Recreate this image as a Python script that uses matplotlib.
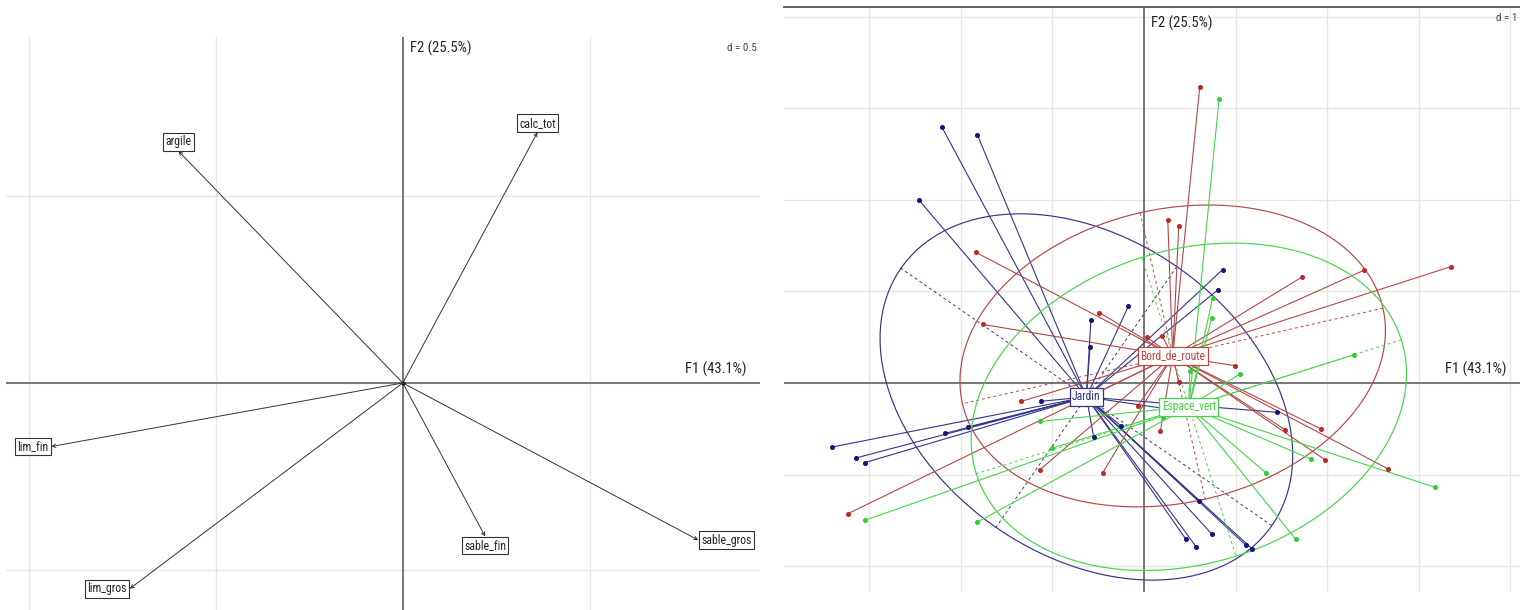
import numpy as np
import matplotlib
matplotlib.use("Agg")
import matplotlib.pyplot as plt

plt.rcParams['font.family'] = ['Liberation Sans Narrow', 'Arial Narrow', 'Roboto Condensed',
                               'PT Sans Narrow', 'Archivo Narrow', 'Liberation Sans', 'DejaVu Sans']

axis_labels = ["F1 (43.1%)", "F2 (25.5%)"]

# correlations of the soil variables with F1 / F2
variables = ["argile", "calc_tot", "lim_fin", "lim_gros", "sable_fin", "sable_gros"]
var_f1 = [-0.60, 0.36, -0.94, -0.73, 0.22, 0.79]
var_f2 = [0.62, 0.67, -0.17, -0.55, -0.41, -0.42]

# site scores, one pair of lists per site type
groups = ["Jardin", "Bord_de_route", "Espace_vert"]
jardin_f1 = [-2.21, -1.82, -2.46, -3.41, -3.15, -3.05, -2.17, -1.92, -0.17, -0.58, -0.59, -1.13,
             -0.55, -0.25, 0.60, 0.74, 0.46, 0.57, 1.11, 1.18, 1.45, 0.86, 0.81, 0.57]
jardin_f2 = [2.80, 2.71, 2.00, -0.70, -0.82, -0.87, -0.55, -0.48, 0.84, 0.69, 0.39, -0.20,
             -0.59, -0.47, -1.29, -1.65, -1.71, -1.79, -1.77, -1.81, -0.32, 1.24, 1.02, -0.33]
route_f1 = [0.61, 0.26, 0.38, -1.84, -1.76, 2.40, 3.35, 1.73, 1.54, 1.93, -1.34, -3.24,
            -0.49, 0.03, 0.20, 0.99, 0.38, -0.77, -0.07, 0.18, -1.14, -0.45, 1.98, 2.67]
route_f2 = [3.24, 1.78, 1.72, 1.43, 0.64, 1.23, 1.27, 1.16, -0.51, -0.50, -0.20, -1.43,
            0.77, 0.50, 0.51, 0.19, 0.01, -0.23, -0.25, -0.52, -0.95, -0.98, -0.84, -0.94]
vert_f1 = [0.82, 0.75, 0.74, 1.05, 0.50, -1.14, -1.00, 1.33, 2.30, -3.05, -1.82, 1.82,
           3.18, 1.66, 0.21]
vert_f2 = [3.10, 0.93, 0.71, 0.10, 0.13, -0.42, -0.71, -0.98, 0.31, -1.50, -1.52, -0.83,
           -1.14, -1.71, -0.37]

line_cols = ["#34348a", "#b44848", "#48d448"]
dot_cols = ["#14147a", "#c02828", "#34cc34"]
text_cols = ["#2e2e82", "#c04444", "#48d048"]
grid_col = "#e6e6e6"
axis_col = "#6e6e6e"


def draw_frame(ax, xlim, ylim, step):
    ax.set_xlim(*xlim)
    ax.set_ylim(*ylim)
    for v in np.arange(np.ceil(xlim[0] / step), np.floor(xlim[1] / step) + 1) * step:
        ax.axvline(v, color=grid_col, lw=1, zorder=0)
    for v in np.arange(np.ceil(ylim[0] / step), np.floor(ylim[1] / step) + 1) * step:
        ax.axhline(v, color=grid_col, lw=1, zorder=0)
    ax.axhline(0, color=axis_col, lw=1.3, zorder=1)
    ax.axvline(0, color=axis_col, lw=1.3, zorder=1)
    ax.set_xticks([])
    ax.set_yticks([])
    for s in ax.spines.values():
        s.set_visible(False)


def axis_titles(ax, d_text, f2_dy):
    ax.annotate(axis_labels[0], xy=(1, 0), xycoords=("axes fraction", "data"),
                xytext=(-10, 4), textcoords="offset points", ha="right", va="bottom",
                fontsize=10.5, color="#222222")
    ax.annotate(axis_labels[1], xy=(0, 1), xycoords=("data", "axes fraction"),
                xytext=(5, f2_dy), textcoords="offset points", ha="left", va="top",
                fontsize=10.5, color="#222222")
    ax.annotate(d_text, xy=(1, 1), xycoords="axes fraction", xytext=(-2, -4),
                textcoords="offset points", ha="right", va="top", fontsize=8,
                color="#444444")


fig = plt.figure(figsize=(15.2, 6.1), dpi=100)

# --- variables ---
ax1 = fig.add_axes([6 / 1520, 0, 754 / 1520, 573 / 610])
draw_frame(ax1, (-1.061, 0.955), (-0.607, 0.925), 0.5)
for name, x, y in zip(variables, var_f1, var_f2):
    ax1.annotate("", xy=(x, y), xytext=(0, 0),
                 arrowprops=dict(arrowstyle="->", lw=0.7, color="#333333",
                                 mutation_scale=6, shrinkA=0, shrinkB=0))
    # put the box outside the arrow tip, on the dominant side
    if x > abs(y):
        off, ha, va = (2, 0), "left", "center"
    elif -x >= abs(y):
        off, ha, va = (-2, 0), "right", "center"
    elif y < 0:
        off, ha, va = (0, -2), "center", "top"
    else:
        off, ha, va = (0, 2), "center", "bottom"
    ax1.annotate(name, xy=(x, y), xytext=off, textcoords="offset points",
                 ha=ha, va=va, fontsize=8.5, color="#222222",
                 bbox=dict(boxstyle="square,pad=0.2", fc="white", ec="#333333", lw=0.8))
ax1.plot(0, 0, "o", color="black", ms=2)
axis_titles(ax1, "d = 0.5", -3)

# --- sites by type ---
ax2 = fig.add_axes([784 / 1520, 18 / 610, 736 / 1520, 585 / 610])
draw_frame(ax2, (-3.934, 4.109), (-2.284, 4.109), 1)
ax2.spines["top"].set_visible(True)
ax2.spines["top"].set_color("#555555")
ax2.spines["top"].set_linewidth(1.3)

scores = [(jardin_f1, jardin_f2), (route_f1, route_f2), (vert_f1, vert_f2)]
centres = []
for (xs, ys), col, dcol in zip(scores, line_cols, dot_cols):
    x = np.array(xs)
    y = np.array(ys)
    mx, my = x.mean(), y.mean()
    centres.append((mx, my))
    for px, py in zip(x, y):
        ax2.plot([mx, px], [my, py], color=col, lw=0.8, zorder=2)
    ax2.plot(x, y, "o", color=dcol, ms=2.6, zorder=3)

    # ellipse at 1.5 standard deviations with its two axes dashed
    vx = ((x - mx) ** 2).mean()
    vy = ((y - my) ** 2).mean()
    cxy = ((x - mx) * (y - my)).mean()
    vals, vecs = np.linalg.eigh(np.array([[vx, cxy], [cxy, vy]]))
    a = 1.5 * np.sqrt(vals[1])
    b = 1.5 * np.sqrt(vals[0])
    u1, u2 = vecs[:, 1], vecs[:, 0]
    t = np.linspace(0, 2 * np.pi, 300)
    ex = mx + a * np.cos(t) * u1[0] + b * np.sin(t) * u2[0]
    ey = my + a * np.cos(t) * u1[1] + b * np.sin(t) * u2[1]
    ax2.plot(ex, ey, color=col, lw=0.85, zorder=2)
    for r, u in ((a, u1), (b, u2)):
        ax2.plot([mx - r * u[0], mx + r * u[0]], [my - r * u[1], my + r * u[1]],
                 color=col, lw=0.7, ls=(0, (3, 3)), zorder=2)

for name, (mx, my), col, tcol in zip(groups, centres, line_cols, text_cols):
    ax2.text(mx, my, name, ha="center", va="center", fontsize=8.3, color=tcol, zorder=5,
             bbox=dict(boxstyle="square,pad=0.2", fc="white", ec=col, lw=0.9))

axis_titles(ax2, "d = 1", -6)

fig.savefig("out.png", dpi=100)
